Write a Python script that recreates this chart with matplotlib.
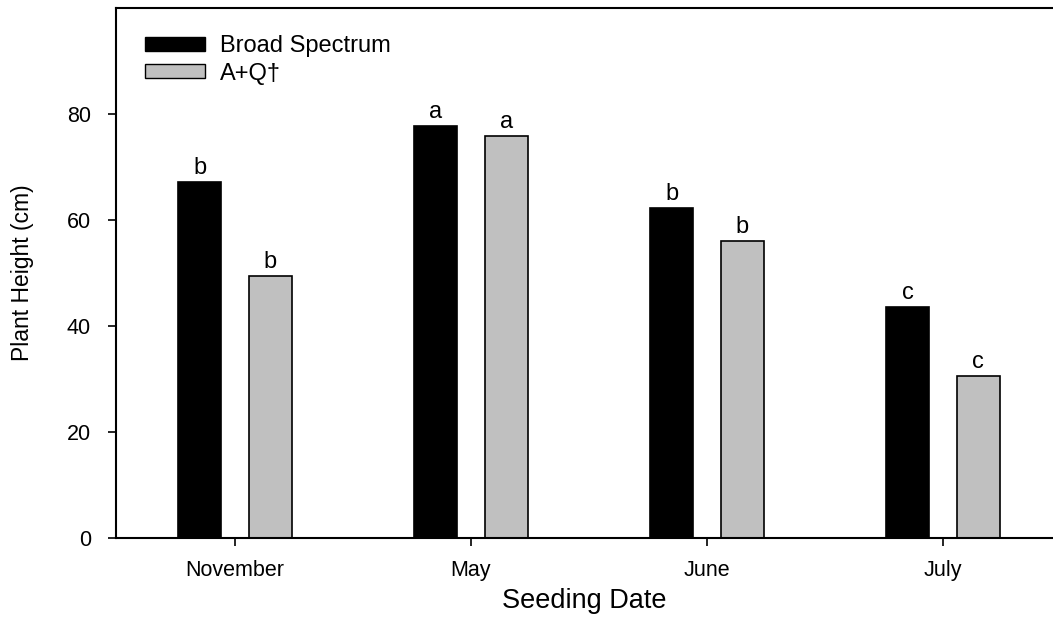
import matplotlib.pyplot as plt
from matplotlib.patches import Patch
import numpy as np

plt.rcParams['font.family'] = ['Liberation Sans', 'DejaVu Sans']

months = ['November', 'May', 'June', 'July']
broad = [67.2, 77.7, 62.3, 43.6]
aq = [49.4, 75.8, 56.0, 30.6]
broad_letters = ['b', 'a', 'b', 'c']
aq_letters = ['b', 'a', 'b', 'c']

fig = plt.figure(figsize=(10.53, 6.31), dpi=100)
ax = fig.add_axes([116 / 1053, 1 - 538 / 631, 1 - 116 / 1053, (538 - 8) / 631])

x = np.arange(len(months))
w = 0.182
off = 0.150
ax.bar(x - off, broad, w, color='black', edgecolor='black', linewidth=1.2)
ax.bar(x + off, aq, w, color='#c0c0c0', edgecolor='black', linewidth=1.2)

for xi, v, t in zip(x, broad, broad_letters):
    ax.text(xi - off, v + 0.6, t, ha='center', va='bottom', fontsize=17)
for xi, v, t in zip(x, aq, aq_letters):
    ax.text(xi + off, v + 0.6, t, ha='center', va='bottom', fontsize=17)

ax.set_xlim(-0.504, 3.466)
ax.set_ylim(0, 100)
ax.set_yticks([0, 20, 40, 60, 80])
ax.set_xticks(x)
ax.set_xticklabels(months)
ax.tick_params(direction='out', labelsize=15.5, width=1.2, length=6)
ax.tick_params(axis='x', pad=10)
ax.tick_params(axis='y', pad=12)
ax.spines['right'].set_visible(False)
for s in ['left', 'top', 'bottom']:
    ax.spines[s].set_linewidth(1.5)

ax.set_xlabel('Seeding Date', fontsize=19.5, labelpad=5)
ax.set_ylabel('Plant Height (cm)', fontsize=16.5, labelpad=24)

handles = [Patch(facecolor='black', edgecolor='black'),
           Patch(facecolor='#c0c0c0', edgecolor='black')]
ax.legend(handles, ['Broad Spectrum', 'A+Q\u2020'], loc='upper left',
          frameon=False, fontsize=17, handlelength=2.55, handleheight=0.55,
          labelspacing=0.22, handletextpad=0.65, borderaxespad=0,
          bbox_to_anchor=(0.0205, 0.966))

fig.savefig('out.png', dpi=100)
